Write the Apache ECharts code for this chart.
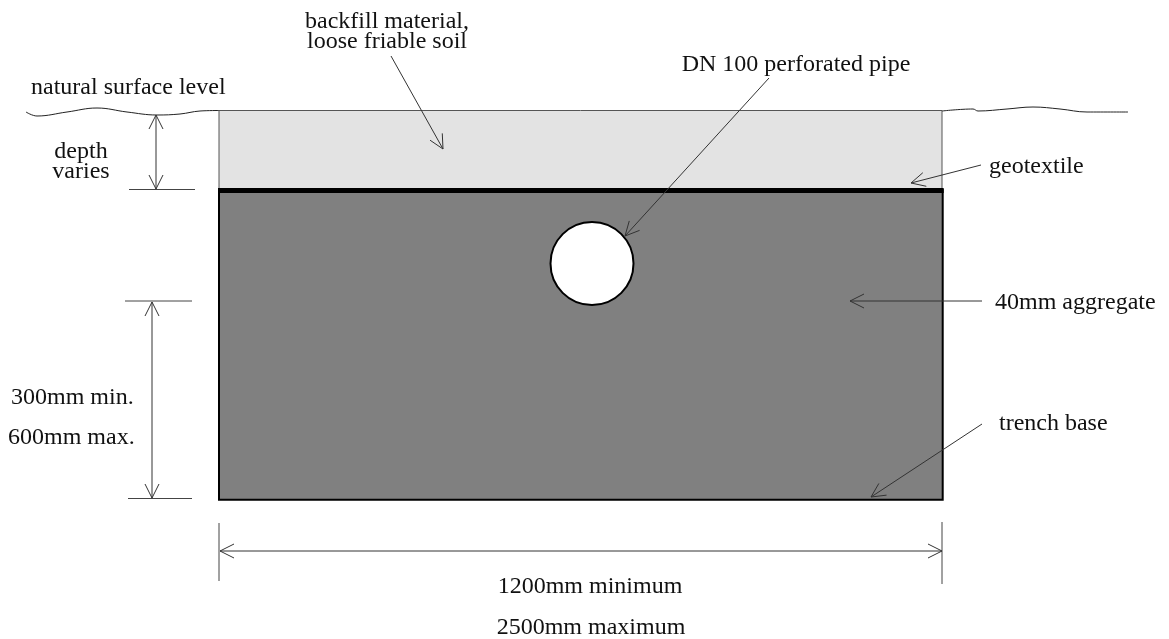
<!DOCTYPE html>
<html><head><meta charset="utf-8">
<style>html,body{margin:0;padding:0;background:#fff}#c{width:1169px;height:639px}</style>
<script src="https://cdn.jsdelivr.net/npm/echarts@6/dist/echarts.min.js"></script>
</head><body><div id="c"></div>
<script>
const surfaceLeft = [[26,112],[37,116],[67,112],[97,108],[127,112],[157,115],[180,114],[200,111],[219,110.5]];
const surfaceRight = [[942,111],[973,109],[978,111],[1007,109],[1033,107],[1060,109],[1087,112],[1128,112]];
const backfillRect = [219,110.5,942,189];
const aggregateRect = [219,190,942.7,499.7];
const geotextile = [[218,190.5],[943.7,190.5]];
const pipe = [592,263.5,41.5];
const pointers = [
  [391,56,443,149],[769,78,625,236],[981,165,911,183],[982,301,850,301],[982,424,871,497]
];
const dimensions = [
  [156,115,156,189],[152,302,152,498],[220,551,942,551]
];
const extensionLines = [
  [129,189.5,195,189.5],[125,301,192,301],[128,498.5,192,498.5],[219,523,219,581],[942,522,942,584]
];
const labels = [
  ['backfill material,',387,22,'center'],['loose friable soil',387,42,'center'],
  ['natural surface level',31,88,'left'],['DN 100 perforated pipe',796,65,'center'],
  ['depth',81,152,'center'],['varies',81,172,'center'],
  ['geotextile',989,167,'left'],['40mm aggregate',995,303,'left'],['trench base',999,424,'left'],
  ['300mm min.',11,398,'left'],['600mm max.',8,438,'left'],
  ['1200mm minimum',590,587,'center'],['2500mm maximum',591,628,'center']
];
const FONT='"Liberation Serif","Times New Roman",serif', INK='#222';
function head(tip,from,len,half){
  const dx=tip[0]-from[0],dy=tip[1]-from[1],d=Math.hypot(dx,dy),u=dx/d,v=dy/d;
  return [[tip[0]-u*len-v*half,tip[1]-v*len+u*half],tip,[tip[0]-u*len+v*half,tip[1]-v*len-u*half]];
}
function segRender(both,arrow,color){
  return function(p,api){
    const a=api.coord([api.value(0),api.value(1)]),b=api.coord([api.value(2),api.value(3)]);
    const kids=[{type:'line',shape:{x1:a[0],y1:a[1],x2:b[0],y2:b[1]},style:{stroke:color,lineWidth:1,fill:null}}];
    if(arrow){
      kids.push({type:'polyline',shape:{points:head(b,a,14,7)},style:{stroke:color,lineWidth:1,fill:null}});
      if(both)kids.push({type:'polyline',shape:{points:head(a,b,14,7)},style:{stroke:color,lineWidth:1,fill:null}});
    }
    return {type:'group',children:kids};
  };
}
function rectRender(fill,stroke,lw){
  return function(p,api){
    const a=api.coord([api.value(0),api.value(1)]),b=api.coord([api.value(2),api.value(3)]);
    return {type:'rect',shape:{x:a[0],y:a[1],width:b[0]-a[0],height:b[1]-a[1]},style:{fill:fill,stroke:stroke,lineWidth:lw}};
  };
}
function wave(d){return {type:'line',data:d,smooth:0.4,symbol:'none',silent:true,z:3,lineStyle:{color:INK,width:1}};}
const chart=echarts.init(document.getElementById('c'),null,{renderer:'canvas'});
chart.setOption({
  animation:false,backgroundColor:'#fff',
  grid:{left:0,right:0,top:0,bottom:0},
  xAxis:{type:'value',min:0,max:1169,show:false},
  yAxis:{type:'value',min:0,max:639,inverse:true,show:false},
  tooltip:{show:false},
  series:[
    wave(surfaceLeft),wave(surfaceRight),
    {type:'custom',z:1,silent:true,clip:false,data:[backfillRect],renderItem:rectRender('#e3e3e3','#555',1)},
    {type:'custom',z:2,silent:true,clip:false,data:[aggregateRect],renderItem:rectRender('#808080','#000',2)},
    {type:'line',z:3,silent:true,data:geotextile,symbol:'none',lineStyle:{color:'#000',width:5,cap:'butt'}},
    {type:'custom',z:3,silent:true,clip:false,data:[pipe],renderItem:function(p,api){
      const c=api.coord([api.value(0),api.value(1)]);
      const r=api.size([api.value(2),0])[0];
      return {type:'circle',shape:{cx:c[0],cy:c[1],r:r},style:{fill:'#fff',stroke:'#000',lineWidth:2}};
    }},
    {type:'custom',z:4,silent:true,clip:false,data:extensionLines,renderItem:segRender(false,false,'#444')},
    {type:'custom',z:5,silent:true,clip:false,data:pointers,renderItem:segRender(false,true,'#333')},
    {type:'custom',z:5,silent:true,clip:false,data:dimensions,renderItem:segRender(true,true,'#333')},
    {type:'custom',z:6,silent:true,clip:false,data:labels.map(l=>[l[1],l[2]]),
      renderItem:function(p,api){
        const l=labels[p.dataIndex],c=api.coord([l[1],l[2]]);
        return {type:'text',x:c[0],y:c[1],style:{text:l[0],font:'24px '+FONT,fill:'#111',textAlign:l[3],textVerticalAlign:'middle'}};
      }}
  ]
});
</script></body></html>
